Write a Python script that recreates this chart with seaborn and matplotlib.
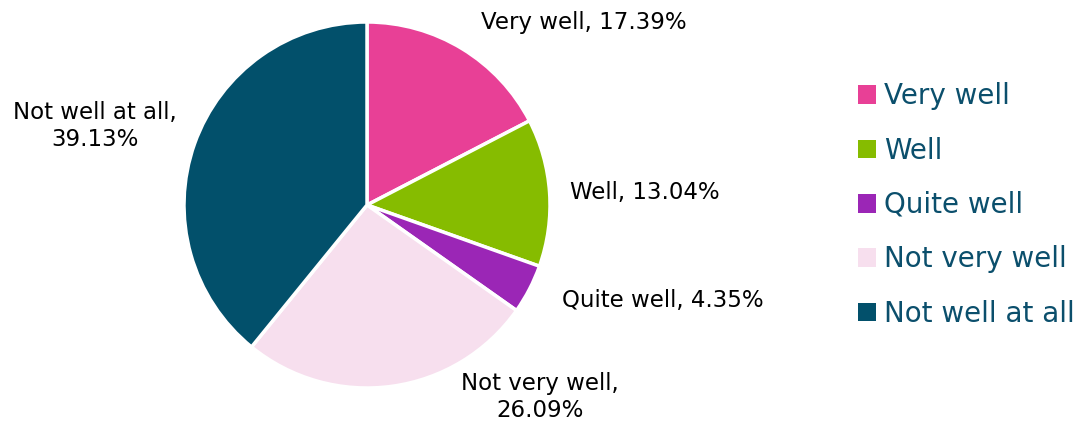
import matplotlib
matplotlib.use("Agg")
import matplotlib.pyplot as plt
import seaborn as sns
from matplotlib.patches import Patch

# Data
categories = ["Very well", "Well", "Quite well", "Not very well", "Not well at all"]
shares = [17.39, 13.04, 4.35, 26.09, 39.13]
colors = ["#E84096", "#86BC00", "#9B26B6", "#F7DFEE", "#02506B"]
point_labels = ["Very well, 17.39%", "Well, 13.04%", "Quite well, 4.35%",
                "Not very well,\n26.09%", "Not well at all,\n39.13%"]

sns.set_theme(style="white")
plt.rcParams['font.family'] = ['DejaVu Sans']

fig = plt.figure(figsize=(10.87, 4.26), dpi=100)
ax = fig.add_axes([0, 0, 1, 1])
ax.set_xlim(0, 1087)
ax.set_ylim(0, 426)
ax.set_aspect("equal")
ax.axis("off")

wedges, _ = ax.pie(shares, colors=colors, startangle=90, counterclock=False,
                   center=(367, 221), radius=183,
                   wedgeprops=dict(edgecolor="white", linewidth=2.5))
ax.set_xlim(0, 1087)
ax.set_ylim(0, 426)

# label positions (pixel coords, y from top)
label_xy = [(584, 22), (645, 192), (663, 300), (540, 397), (95, 126)]
for text, (x, y) in zip(point_labels, label_xy):
    ax.text(x, 426 - y, text, ha="center", va="center", fontsize=16.5,
            color="black", linespacing=1.2)

handles = [Patch(facecolor=c, edgecolor="none") for c in colors]
leg = ax.legend(handles, categories, loc="center left",
                bbox_to_anchor=(858 / 1087, 1 - 205 / 426),
                frameon=False, fontsize=20, handlelength=0.65, handleheight=0.65,
                handletextpad=0.3, labelspacing=0.95, labelcolor="#0B4F6C",
                borderaxespad=0, borderpad=0)

fig.savefig("out.png", dpi=100)
